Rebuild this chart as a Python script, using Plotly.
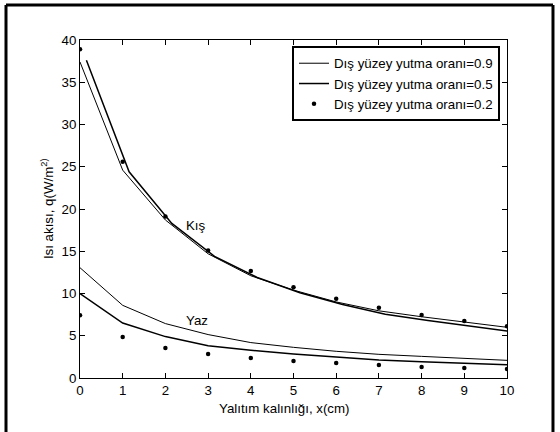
import plotly.graph_objects as go

# Data
x_vals = [0, 1, 2, 3, 4, 5, 6, 7, 8, 9, 10]
x_kis_05 = [0.15, 1.15, 2.15, 3.15, 4.15, 5.15, 6.15, 7.15, 8.15, 9.15, 10.15]

kis_09 = [37.4, 24.6, 18.7, 14.7, 12.1, 10.4, 9.0, 7.95, 7.25, 6.6, 6.0]
kis_05 = [37.6, 24.4, 18.3, 14.4, 11.9, 10.1, 8.7, 7.55, 6.8, 6.1, 5.45]
kis_02 = [38.9, 25.6, 19.1, 15.1, 12.65, 10.75, 9.37, 8.3, 7.47, 6.76, 6.13]

yaz_09 = [13.05, 8.6, 6.44, 5.14, 4.19, 3.63, 3.16, 2.8, 2.56, 2.33, 2.09]
yaz_05 = [10.0, 6.5, 4.9, 3.83, 3.28, 2.84, 2.49, 2.13, 1.93, 1.73, 1.58]
yaz_02 = [7.43, 4.86, 3.55, 2.84, 2.37, 2.02, 1.78, 1.54, 1.3, 1.19, 1.07]

names = ["Dış yüzey yutma oranı=0.9", "Dış yüzey yutma oranı=0.5", "Dış yüzey yutma oranı=0.2"]
x_title = "Yalıtım kalınlığı, x(cm)"
y_title = "Isı akısı, q(W/m<sup>2)</sup>"
season_labels = ["Kış", "Yaz"]
season_pos = [(2.72, 18.0), (2.74, 6.8)]

FONT = "Arial, Liberation Sans, sans-serif"
FS = 13.3

fig = go.Figure()
# Kış
fig.add_trace(go.Scatter(x=x_vals, y=kis_09, mode="lines", name=names[0],
                         line=dict(color="black", width=1), legendgroup="a"))
fig.add_trace(go.Scatter(x=x_kis_05, y=kis_05, mode="lines", name=names[1],
                         line=dict(color="black", width=1.5), legendgroup="b"))
fig.add_trace(go.Scatter(x=x_vals, y=kis_02, mode="markers", name=names[2],
                         marker=dict(color="black", size=4.5), legendgroup="c"))
# Yaz
fig.add_trace(go.Scatter(x=x_vals, y=yaz_09, mode="lines", name=names[0], showlegend=False,
                         line=dict(color="black", width=1), legendgroup="a"))
fig.add_trace(go.Scatter(x=x_vals, y=yaz_05, mode="lines", name=names[1], showlegend=False,
                         line=dict(color="black", width=1.5), legendgroup="b"))
fig.add_trace(go.Scatter(x=x_vals, y=yaz_02, mode="markers", name=names[2], showlegend=False,
                         marker=dict(color="black", size=4.5), legendgroup="c"))

for lab, (lx, ly) in zip(season_labels, season_pos):
    fig.add_annotation(x=lx, y=ly, text=lab, showarrow=False,
                       font=dict(family=FONT, size=FS, color="black"))

fig.add_annotation(xref="paper", yref="paper", x=0.48, y=-0.089, text=x_title,
                   showarrow=False, xanchor="center", yanchor="middle",
                   font=dict(family=FONT, size=FS, color="black"))
fig.add_annotation(xref="paper", yref="paper", x=-0.077, y=0.5, text=y_title,
                   showarrow=False, xanchor="center", yanchor="middle", textangle=-90,
                   font=dict(family=FONT, size=FS, color="black"))

# outer frame (left, top, right)
x0, x1, yt, yb = -0.1733, 1.1077, 1.1036, -0.2
for (ax0, ay0, ax1, ay1) in [(x0, yb, x0, yt), (x0, yt, x1, yt), (x1, yt, x1, yb)]:
    fig.add_shape(type="line", xref="paper", yref="paper", x0=ax0, y0=ay0, x1=ax1, y1=ay1,
                  line=dict(color="black", width=3))

axis_common = dict(showline=True, linecolor="black", linewidth=1, mirror="ticks",
                   ticks="inside", ticklen=5, tickcolor="black", showgrid=False,
                   zeroline=False, tickfont=dict(family=FONT, size=FS, color="black"))

fig.update_xaxes(range=[0, 10], dtick=1, tick0=0, **axis_common)
fig.update_yaxes(range=[0, 40], dtick=5, tick0=0, **axis_common)

fig.update_layout(
    width=560, height=432,
    margin=dict(l=80, r=53, t=40, b=54),
    paper_bgcolor="white", plot_bgcolor="white",
    font=dict(family=FONT, size=FS, color="black"),
    legend=dict(x=0.4965, y=0.982, xanchor="left", yanchor="top",
                bordercolor="black", borderwidth=2, bgcolor="white",
                font=dict(family=FONT, size=FS, color="black"),
                tracegroupgap=0),
    showlegend=True,
)

fig.write_html("out.html")
